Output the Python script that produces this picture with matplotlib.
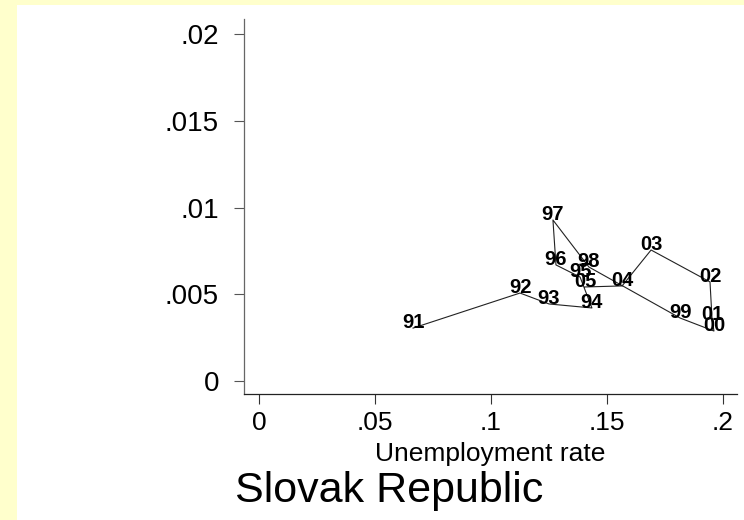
import numpy as np
import matplotlib
matplotlib.use('Agg')
import matplotlib.pyplot as plt

# Slovak Republic: unemployment rate vs. vacancy rate, 1991-2005
YEARS = ['91', '92', '93', '94', '95', '96', '97', '98',
         '99', '00', '01', '02', '03', '04', '05']
UNEMP = [0.0664, 0.1125, 0.1250, 0.1435, 0.1384, 0.1280, 0.1267, 0.1422,
         0.1815, 0.1961, 0.1953, 0.1944, 0.1690, 0.1565, 0.1405]
VAC   = [0.00305, 0.00507, 0.00444, 0.00421, 0.00599, 0.00669, 0.00928, 0.00657,
         0.00363, 0.00288, 0.00352, 0.00571, 0.00755, 0.00548, 0.00542]

XTICKS = [0, 0.05, 0.1, 0.15, 0.2]
XTICKLABELS = ['0', '.05', '.1', '.15', '.2']
YTICKS = [0, 0.005, 0.01, 0.015, 0.02]
YTICKLABELS = ['0', '.005', '.01', '.015', '.02']

plt.rcParams['font.family'] = ['Liberation Sans', 'DejaVu Sans']

W, H = 744, 520
fig = plt.figure(figsize=(W / 100, H / 100), dpi=100)
fig.patch.set_facecolor('#FFFFCC')

# white graph region (yellow strip on left / top)
bg = fig.add_axes([17 / W, 0, 1 - 17 / W, 1 - 5 / H])
bg.set_facecolor('white')
bg.set_xticks([])
bg.set_yticks([])
for s in bg.spines.values():
    s.set_visible(False)

ax = fig.add_axes([244 / W, 1 - 394 / H, (737 - 244) / W, (394 - 19) / H])
ax.set_facecolor('white')

ax.plot(UNEMP, VAC, color='#222222', lw=0.8, zorder=2)
for yr, x, y in zip(YEARS, UNEMP, VAC):
    ax.text(x, y, yr, ha='center', va='baseline', fontsize=14.5,
            fontweight='bold', color='black', zorder=3)

# axis ranges from pixel positions
ax.set_xlim(-15 / 2320, 478 / 2320)
ax.set_ylim(-13 / 17350, 362 / 17350)

ax.set_xticks(XTICKS)
ax.set_xticklabels(XTICKLABELS, fontsize=19)
ax.set_yticks(YTICKS)
ax.set_yticklabels(YTICKLABELS, fontsize=20)
ax.tick_params(axis='x', length=7, width=0.8, color='#333333', pad=5)
ax.tick_params(axis='y', length=7, width=0.8, color='#555555', pad=11)

ax.spines['top'].set_visible(False)
ax.spines['right'].set_visible(False)
ax.spines['left'].set_color('#666666')
ax.spines['bottom'].set_color('#222222')
ax.spines['left'].set_linewidth(0.9)
ax.spines['bottom'].set_linewidth(0.9)

ax.set_xlabel('Unemployment rate', fontsize=19, labelpad=5)

fig.text(389 / W, 1 - 502 / H, 'Slovak Republic', ha='center',
         va='baseline', fontsize=31)

plt.savefig('out.png', dpi=100, facecolor=fig.get_facecolor())
plt.close()
